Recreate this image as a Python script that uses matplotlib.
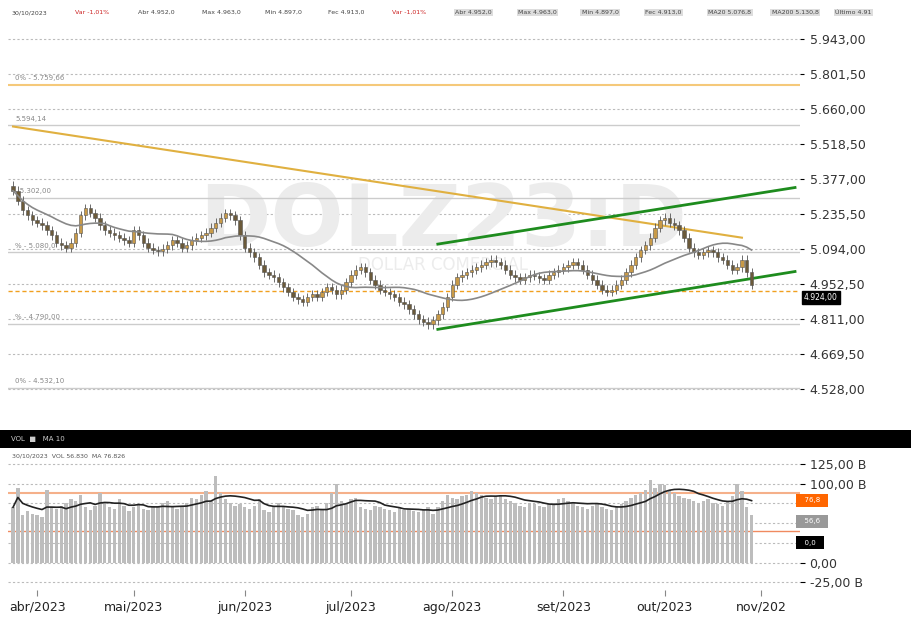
import numpy as np
import pandas as pd
import matplotlib.pyplot as plt
from matplotlib.patches import Rectangle

# daily closes (27/03/2023 .. 27/10/2023)
closes = [5330, 5290, 5250, 5230, 5210,
          5200, 5190, 5170, 5150, 5120, 5110, 5100, 5120, 5160, 5230, 5260, 5240, 5220, 5190, 5170, 5160, 5150, 5140, 5130, 5120,
          5170, 5150, 5120, 5100, 5090, 5085, 5095, 5110, 5130, 5120, 5100, 5110, 5130, 5140, 5150, 5160, 5180, 5200, 5220, 5240, 5230, 5210,
          5150, 5100, 5080, 5060, 5030, 5000, 4990, 4980, 4960, 4940, 4920, 4900, 4890, 4880, 4900, 4910, 4900, 4920, 4940, 4930, 4910,
          4930, 4960, 4990, 5010, 5020, 5000, 4970, 4950, 4930, 4920, 4910, 4900, 4880, 4870, 4850, 4830, 4810, 4800, 4790, 4805, 4830,
          4860, 4900, 4950, 4980, 4990, 5000, 5010, 5020, 5030, 5040, 5050, 5040, 5030, 5010, 4990, 4980, 4970, 4980, 4990, 4985, 4975, 4970, 4990,
          5000, 5010, 5020, 5030, 5040, 5030, 5010, 4990, 4970, 4950, 4930, 4920, 4930, 4950, 4970, 5000, 5030, 5060, 5090, 5110, 5140,
          5180, 5210, 5220, 5200, 5190, 5170, 5140, 5100, 5080, 5070, 5080, 5090, 5080, 5060, 5050, 5030, 5010, 5020, 5050, 5000, 4950]

volume = [70, 95, 60, 65, 62,
          60, 58, 92, 70, 68, 72, 75, 80, 78, 85, 70, 66, 72, 88, 75, 70, 68, 80, 72, 65,
          70, 74, 68, 66, 72, 70, 75, 78, 70, 68, 72, 76, 82, 80, 85, 90, 78, 110, 88, 80, 76, 72,
          74, 70, 68, 72, 80, 66, 64, 70, 75, 72, 68, 66, 60, 58, 62, 70, 72, 68, 75, 88, 100,
          78, 74, 80, 82, 70, 68, 66, 72, 70, 68, 66, 64, 70, 66, 68, 65, 64, 66, 70, 62, 70,
          78, 85, 82, 80, 84, 86, 90, 88, 85, 82, 80, 84, 86, 80, 78, 75, 72, 70, 76, 74, 72, 70, 74,
          76, 80, 82, 78, 75, 72, 70, 68, 72, 74, 70, 68, 66, 70, 74, 78, 82, 86, 88, 92, 105,
          95, 100, 98, 92, 88, 84, 82, 80, 78, 76, 78, 80, 76, 74, 72, 78, 84, 100, 90, 70, 60]

dates = pd.bdate_range("2023-03-27", periods=len(closes))
month_labels = ["abr/2023", "mai/2023", "jun/2023", "jul/2023", "ago/2023", "set/2023", "out/2023", "nov/202"]
price_ticks = [5943.0, 5801.5, 5660.0, 5518.5, 5377.0, 5235.5, 5094.0, 4952.5, 4811.0, 4669.5, 4528.0]
fibo = [(5759.66, "0% - 5.759,66", "#f5c97a"), (5594.14, "5.594,14", "#cccccc"),
        (5302.0, "- 5.302,00", "#cccccc"), (5080.0, "% - 5.080,0", "#cccccc"),
        (4790.0, "% - 4.790,00", "#cccccc"), (4532.0, "0% - 4.532,10", "#cccccc")]
trend = [(0, 5590), (len(closes) - 3, 5140)]
chan_up = [(88, 5114), (len(closes) + 8, 5343)]
chan_dn = [(88, 4769), (len(closes) + 8, 5003)]
last_price = 4924.0

def fmt(v):
    return f"{v:,.2f}".replace(",", "X").replace(".", ",").replace("X", ".")

c = np.array(closes, float)
o = np.r_[c[0] + 20, c[:-1]]
x = np.arange(len(c))
ma = pd.Series(c).rolling(20, min_periods=1).mean()
vma = pd.Series(volume).rolling(10, min_periods=1).mean()

fig = plt.figure(figsize=(9.11, 6.18), dpi=100)
fig.patch.set_facecolor("white")
ax = fig.add_axes([0.009, 0.304, 0.869, 0.664])
ax.set_xlim(-1, len(c) + 9)
ax.set_ylim(4361, 6022)

for t in price_ticks:
    ax.axhline(t, color="#bbbbbb", ls=(0, (2, 2)), lw=0.8, zorder=0)
for v, lab, col in fibo:
    ax.axhline(v, color=col, lw=1.5 if col != "#cccccc" else 1.0, zorder=1)
    ax.text(0.5, v + 15, lab, fontsize=5, color="#888888", va="bottom")

ax.text(0.5 * len(c) + 12, 5200, "DOLZ23:D", fontsize=62, color="#ececec", ha="center", va="center",
        fontweight="bold", zorder=0)
ax.text(0.5 * len(c) + 12, 5030, "DOLLAR COMERCIAL", fontsize=12, color="#ececec", ha="center", va="center", zorder=0)

ax.plot([p[0] for p in trend], [p[1] for p in trend], color="#e0b040", lw=1.5, zorder=2)
ax.plot([p[0] for p in chan_up], [p[1] for p in chan_up], color="#1e8c1e", lw=2, zorder=2)
ax.plot([p[0] for p in chan_dn], [p[1] for p in chan_dn], color="#1e8c1e", lw=2, zorder=2)
ax.axhline(last_price, color="#f0a020", ls=(0, (3, 2)), lw=1, zorder=1)

for i in range(len(c)):
    up = c[i] >= o[i]
    col = "#c89a48" if up else "#6b5a3a"
    lo, hi = min(o[i], c[i]), max(o[i], c[i])
    ax.vlines(x[i], lo - 18, hi + 18, color="#555555", lw=0.6, zorder=3)
    ax.add_patch(Rectangle((x[i] - 0.35, lo), 0.7, max(hi - lo, 3), facecolor=col,
                           edgecolor="#555555", lw=0.4, zorder=4))
ax.plot(x, ma, color="#888888", lw=1.2, zorder=5)

ax.yaxis.tick_right()
ax.set_yticks(price_ticks)
ax.set_yticklabels([fmt(t) for t in price_ticks], fontsize=9, color="#333333")
ax.tick_params(axis="y", length=3, pad=4)
ax.set_xticks([])
for s in ax.spines.values():
    s.set_visible(False)
ax.text(1.005, (last_price - 4361) / (6022 - 4361) - 0.015, fmt(last_price), transform=ax.transAxes, fontsize=5.5,
        color="white", va="center", bbox=dict(boxstyle="square,pad=0.25", fc="black", ec="black"))

# header strip
hdr = ["30/10/2023", "Var -1,01%", "Abr 4.952,0", "Max 4.963,0", "Min 4.897,0", "Fec 4.913,0", "Var -1,01%",
       "Abr 4.952,0", "Max 4.963,0", "Min 4.897,0", "Fec 4.913,0", "MA20 5.076,8", "MA200 5.130,8", "Último 4.91"]
for k, h in enumerate(hdr):
    fig.text(0.013 + k * 0.0695, 0.977, h, fontsize=4.5, color="#cc2222" if "Var" in h else "#444444",
             bbox=dict(boxstyle="square,pad=0.2", fc="#dddddd" if k > 6 else "white", ec="none"))

# black separator bar
fig.add_artist(Rectangle((0, 0.275), 1, 0.029, transform=fig.transFigure, fc="black", ec="none"))
fig.text(0.012, 0.289, "VOL  ■   MA 10", fontsize=5, color="#cccccc", va="center")

axv = fig.add_axes([0.009, 0.045, 0.869, 0.23])
axv.set_xlim(-1, len(c) + 9)
axv.set_ylim(-35, 145)
vt = [125, 100, 0, -25]
for t in [125, 100, 75, 50, 25, 0, -25]:
    axv.axhline(t, color="#bbbbbb", ls=(0, (2, 2)), lw=0.8, zorder=0)
axv.bar(x, volume, width=0.7, color="#bdbdbd", zorder=2)
axv.plot(x, vma, color="#222222", lw=1.2, zorder=3)
axv.axhline(88, color="#f5b08a", lw=1.5, zorder=1)
axv.axhline(40, color="#f08a60", lw=1, zorder=1)
axv.yaxis.tick_right()
axv.set_yticks(vt)
axv.set_yticklabels(["125,00 B", "100,00 B", "0,00", "-25,00 B"], fontsize=9, color="#333333")
axv.text(1.0, 0.62, "  76,8  ", transform=axv.transAxes, fontsize=5, color="white",
         bbox=dict(boxstyle="square,pad=0.5", fc="#ff6600", ec="none"))
axv.text(1.0, 0.47, "  56,6  ", transform=axv.transAxes, fontsize=5, color="white",
         bbox=dict(boxstyle="square,pad=0.5", fc="#999999", ec="none"))
axv.text(1.0, 0.32, "  0,0  ", transform=axv.transAxes, fontsize=5, color="white",
         bbox=dict(boxstyle="square,pad=0.5", fc="black", ec="none"))
axv.text(0.005, 0.93, "30/10/2023  VOL 56.830  MA 76.826", transform=axv.transAxes, fontsize=4.5, color="#555555")

mpos = [0] + [i for i in range(1, len(dates)) if dates[i].month != dates[i - 1].month]
mpos = [p for p in mpos if dates[p].day <= 5] + [len(c) + 1]
axv.set_xticks(mpos)
axv.set_xticklabels(month_labels[:len(mpos)], fontsize=9, color="#222222")
axv.tick_params(axis="x", length=4, color="#888888")
for s in axv.spines.values():
    s.set_visible(False)

fig.savefig("out.png", dpi=100)
